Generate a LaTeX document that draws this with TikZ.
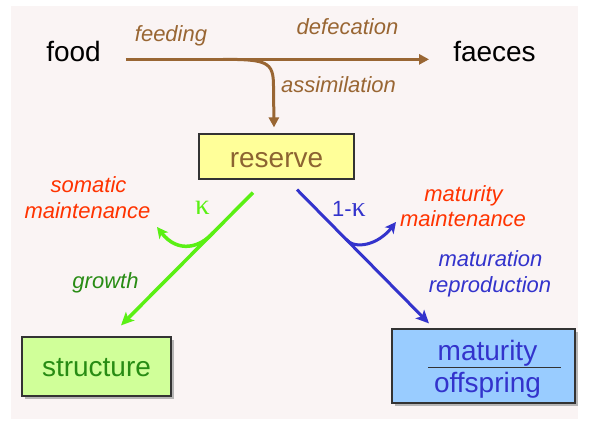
\documentclass[tikz,border=0pt]{standalone}
\usepackage{fontspec}
\setmainfont{Liberation Sans}
\newfontfamily\kapfont{Liberation Serif}
\usetikzlibrary{arrows.meta,shadows}
\definecolor{bgpink}{RGB}{250,244,244}
\definecolor{flowbrown}{RGB}{153,102,51}
\definecolor{resbrown}{RGB}{140,100,50}
\definecolor{maintred}{RGB}{255,51,0}
\definecolor{kgreen}{RGB}{90,240,20}
\definecolor{growgreen}{RGB}{40,140,20}
\definecolor{flowblue}{RGB}{51,51,204}
\definecolor{resyellow}{RGB}{255,255,153}
\definecolor{strgreen}{RGB}{208,255,153}
\definecolor{matblue}{RGB}{153,204,255}
\definecolor{boxline}{RGB}{51,51,51}
\begin{document}
\begin{tikzpicture}[x=1pt,y=-1pt,
  big/.style={font=\fontsize{28}{32}\selectfont, inner sep=0pt},
  lab/.style={font=\fontsize{22}{26}\selectfont\itshape, inner sep=0pt, anchor=base},
  box/.style={draw=boxline, line width=1.2pt, inner sep=0pt},
  boxshadow/.style={drop shadow={shadow xshift=3pt,shadow yshift=-3pt,fill=gray!70,opacity=0.8}},
  brownflow/.style={draw=flowbrown, line width=3pt},
  greenflow/.style={draw=kgreen, line width=3.5pt},
  blueflow/.style={draw=flowblue, line width=3pt},
  browntip/.style={-{Triangle[length=10pt,width=10pt]}},
  bigtip/.style={-{Stealth[length=13pt,width=12pt,inset=3pt]}},
  smalltip/.style={-{Stealth[length=11pt,width=11pt,inset=3pt]}},
  divider/.style={draw=boxline, line width=1pt}
]
\fill[white] (0,0) rectangle (598,425);
\useasboundingbox (0,0) rectangle (598,425);
\fill[bgpink] (11,6) rectangle (578,419);

% main nodes
\node[big, anchor=base] (food) at (73.5,62) {food};
\node[big, anchor=base] (faeces) at (494.5,62) {faeces};
\node[box, big, fill=resyellow, text=resbrown, minimum width=155pt, minimum height=45pt,
      text height=23pt, text depth=0pt] (reserve) at (276.5,156.5) {reserve};
\node[box, big, fill=strgreen, text=growgreen, minimum width=149pt, minimum height=59pt,
      text height=21pt, text depth=0pt, boxshadow] (structure) at (96.5,366.5) {structure};
\node[box, fill=matblue, minimum width=183pt, minimum height=74pt, boxshadow] (matbox) at (483.5,366) {};
\node[big, anchor=base, text=flowblue] (matur) at (487.5,360) {maturity};
\node[big, anchor=base, text=flowblue] (offsp) at (487.5,392) {offspring};
\draw[divider] ([shift={(37pt,-1pt)}]matbox.west) -- ([shift={(-15pt,-1pt)}]matbox.east);

% feeding / defecation
\draw[brownflow, browntip] ([xshift=25pt]food.mid east) -- coordinate[pos=0.321] (split) ([xshift=-24pt]faeces.mid west);
% assimilation
\draw[brownflow, browntip] (split) .. controls +(44,0) and +(0,-24) .. (273.5,86)
  -- ([shift={(-2.5pt,6pt)}]reserve.north);

% kappa branch
\draw[greenflow, bigtip] ([shift={(-23.5pt,-13pt)}]reserve.south) -- coordinate[pos=0.3] (gsplit)
  ([shift={(24.5pt,11pt)}]structure.north);
\coordinate (somtip) at (157,227);
\draw[greenflow, smalltip] (gsplit) .. controls +(-13,15) and +(21,27) .. (somtip);

% 1-kappa branch
\draw[blueflow, bigtip] ([shift={(20.5pt,-10pt)}]reserve.south) -- coordinate[pos=0.37] (bsplit)
  ([shift={(-54.5pt,5pt)}]matbox.north);
\coordinate (mattip) at (396,222);
\draw[blueflow, smalltip] (bsplit) .. controls +(9,11) and +(-18,23) .. (mattip);

% labels
\node[lab, text=flowbrown] (feedinglab) at (171,42) {feeding};
\node[lab, text=flowbrown] (defeclab) at (347.5,35) {defecation};
\node[lab, text=flowbrown] (assimlab) at (338.5,93) {assimilation};
\node[lab, text=maintred] (som1) at (88.5,193) {somatic};
\node[lab, text=maintred] (som2) at (87.5,219) {maintenance};
\node[anchor=base, inner sep=0pt, font=\kapfont\fontsize{29}{32}\selectfont, text=kgreen] (kappa) at (202.5,215) {κ};
\node[lab, text=growgreen] (growth) at (105.5,289) {growth};
\node[anchor=base, inner sep=0pt, font=\fontsize{22}{26}\selectfont, text=flowblue] (onemk) at (349,217) {1-{\kapfont\fontsize{28}{32}\selectfont κ}};
\node[lab, text=maintred] (mat1) at (463.5,202) {maturity};
\node[lab, text=maintred] (mat2) at (463,227) {maintenance};
\node[lab, text=flowblue] (mr1) at (490.5,267) {maturation};
\node[lab, text=flowblue] (mr2) at (490,293) {reproduction};
\end{tikzpicture}
\end{document}
